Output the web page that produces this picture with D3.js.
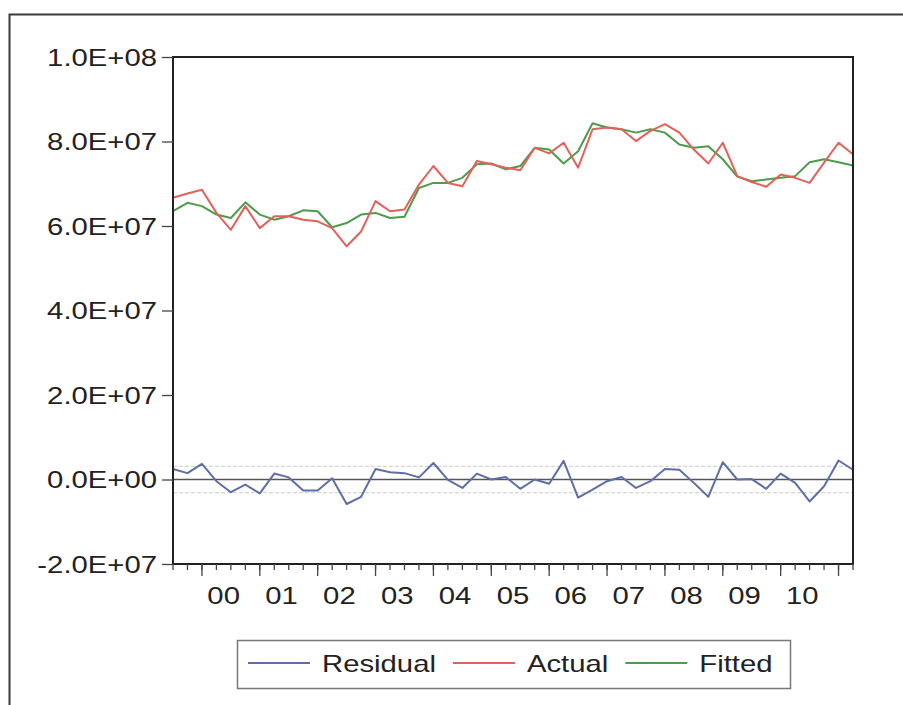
<!DOCTYPE html>
<html>
<head>
<meta charset="utf-8">
<script src="https://cdn.jsdelivr.net/npm/d3@7"></script>
<style>
  body { margin: 0; background: #fff; }
  svg { display: block; font-family: "Liberation Sans", Arial, sans-serif; }
</style>
</head>
<body>
<div id="chart"></div>
<script>
// quarterly sample 1999Q3 - 2011Q2
const startYear = 1999;
const startQuarter = 3;

const actual = [
  6.67e7, 6.77e7, 6.86e7, 6.31e7, 5.91e7, 6.47e7, 5.95e7, 6.23e7,
  6.23e7, 6.15e7, 6.11e7, 5.95e7, 5.52e7, 5.87e7, 6.59e7, 6.35e7,
  6.39e7, 6.98e7, 7.42e7, 7.02e7, 6.94e7, 7.54e7, 7.46e7, 7.38e7,
  7.32e7, 7.85e7, 7.72e7, 7.97e7, 7.38e7, 8.29e7, 8.33e7, 8.29e7,
  8.01e7, 8.25e7, 8.41e7, 8.21e7, 7.81e7, 7.48e7, 7.97e7, 7.18e7,
  7.04e7, 6.93e7, 7.22e7, 7.14e7, 7.02e7, 7.50e7, 7.97e7, 7.70e7
];

const fitted = [
  6.35e7, 6.55e7, 6.47e7, 6.27e7, 6.19e7, 6.56e7, 6.27e7, 6.15e7,
  6.23e7, 6.37e7, 6.35e7, 5.97e7, 6.07e7, 6.27e7, 6.31e7, 6.19e7,
  6.22e7, 6.90e7, 7.02e7, 7.02e7, 7.14e7, 7.46e7, 7.48e7, 7.34e7,
  7.42e7, 7.85e7, 7.81e7, 7.48e7, 7.77e7, 8.43e7, 8.33e7, 8.29e7,
  8.21e7, 8.29e7, 8.21e7, 7.93e7, 7.85e7, 7.89e7, 7.58e7, 7.17e7,
  7.06e7, 7.10e7, 7.14e7, 7.18e7, 7.51e7, 7.58e7, 7.51e7, 7.43e7
];

const residual = [
  2.5e6, 1.5e6, 3.7e6, -0.4e6, -3.0e6, -1.2e6, -3.3e6, 1.4e6,
  0.5e6, -2.6e6, -2.6e6, 0.3e6, -5.8e6, -4.1e6, 2.5e6, 1.7e6,
  1.5e6, 0.5e6, 3.9e6, -0.1e6, -2.0e6, 1.4e6, 0.0e6, 0.6e6,
  -2.2e6, 0.0e6, -1.0e6, 4.4e6, -4.3e6, -2.4e6, -0.4e6, 0.6e6,
  -2.0e6, -0.4e6, 2.5e6, 2.3e6, -0.8e6, -4.1e6, 4.1e6, 0.0e6,
  0.1e6, -2.2e6, 1.4e6, -0.8e6, -5.2e6, -1.6e6, 4.5e6, 2.3e6
];

const residualSE = 3.1e6;

const yTicks = [-2e7, 0, 2e7, 4e7, 6e7, 8e7, 1e8];
const yearLabels = ['00', '01', '02', '03', '04', '05', '06', '07', '08', '09', '10'];
const seriesNames = ['Residual', 'Actual', 'Fitted'];

const colors = { Residual: '#5f6ea6', Actual: '#e4605a', Fitted: '#4c9c4c' };

const W = 903, H = 705;
const margin = { top: 57, right: 50, bottom: 141, left: 173 };
const width = W - margin.left - margin.right;
const height = H - margin.top - margin.bottom;
const fontSize = 24;
const stretch = 1.22;   // the original type is drawn a bit wide

const svg = d3.select('#chart').append('svg')
  .attr('width', W)
  .attr('height', H);

svg.append('rect').attr('width', W).attr('height', H).attr('fill', '#fff');

// outer frame (runs off the right and bottom edges)
svg.append('rect')
  .attr('x', 9.5).attr('y', 14.5)
  .attr('width', 1000).attr('height', 1000)
  .attr('fill', 'none')
  .attr('stroke', '#3a3a3a')
  .attr('stroke-width', 2);

const g = svg.append('g')
  .attr('transform', `translate(${margin.left},${margin.top})`);

const x = d3.scaleLinear()
  .domain([0, actual.length - 1])
  .range([0, width]);

const y = d3.scaleLinear()
  .domain([-2e7, 1e8])
  .range([height, 0]);

const fmtE = v => {
  if (v === 0) return '0.0E+00';
  const e = Math.floor(Math.log10(Math.abs(v)));
  const m = v / Math.pow(10, e);
  return m.toFixed(1) + 'E' + (e < 0 ? '-' : '+') + String(Math.abs(e)).padStart(2, '0');
};

const widen = sel => sel.each(function() {
  const len = this.getComputedTextLength();
  d3.select(this)
    .attr('textLength', len * stretch)
    .attr('lengthAdjust', 'spacingAndGlyphs');
});

// +/- 1 S.E. bands around zero
[residualSE, -residualSE].forEach(v => {
  g.append('line')
    .attr('x1', 0).attr('x2', width)
    .attr('y1', y(v)).attr('y2', y(v))
    .attr('stroke', '#d6d6d0')
    .attr('stroke-width', 1.4)
    .attr('stroke-dasharray', '4,2');
});

g.append('line')
  .attr('x1', 0).attr('x2', width)
  .attr('y1', y(0)).attr('y2', y(0))
  .attr('stroke', '#555')
  .attr('stroke-width', 1.4);

const line = d3.line()
  .x((d, i) => x(i))
  .y(d => y(d));

const series = { Residual: residual, Actual: actual, Fitted: fitted };

['Residual', 'Fitted', 'Actual'].forEach(name => {
  g.append('path')
    .datum(series[name])
    .attr('fill', 'none')
    .attr('stroke', colors[name])
    .attr('stroke-width', 2)
    .attr('stroke-linejoin', 'round')
    .attr('d', line);
});

// plot box
g.append('rect')
  .attr('width', width).attr('height', height)
  .attr('fill', 'none')
  .attr('stroke', '#222')
  .attr('stroke-width', 2);

// y axis
const yAxis = g.append('g')
  .call(d3.axisLeft(y).tickValues(yTicks).tickSize(11).tickPadding(5).tickFormat(fmtE));
yAxis.select('.domain').remove();
yAxis.selectAll('.tick line').attr('stroke', '#444').attr('stroke-width', 1.3);
yAxis.selectAll('.tick text')
  .attr('fill', '#222')
  .style('font-size', fontSize + 'px')
  .attr('dy', '0.35em')
  .call(widen);

// x axis: quarterly minor ticks, yearly major ticks
const q1Index = k => (2000 + k - startYear) * 4 - (startQuarter - 1);
const majorIdx = d3.range(0, 12).map(q1Index).filter(i => i <= actual.length - 1);

const xAxis = g.append('g').attr('transform', `translate(0,${height})`);
xAxis.selectAll('.minor')
  .data(d3.range(actual.length))
  .enter().append('line')
  .attr('x1', d => x(d)).attr('x2', d => x(d))
  .attr('y1', 0).attr('y2', 6)
  .attr('stroke', '#444').attr('stroke-width', 1.3);
xAxis.selectAll('.major')
  .data(majorIdx)
  .enter().append('line')
  .attr('x1', d => x(d)).attr('x2', d => x(d))
  .attr('y1', 0).attr('y2', 12)
  .attr('stroke', '#444').attr('stroke-width', 1.3);
xAxis.selectAll('.yearlab')
  .data(yearLabels)
  .enter().append('text')
  .attr('x', (d, k) => x(q1Index(k) + 1.5))
  .attr('y', 40)
  .attr('text-anchor', 'middle')
  .attr('fill', '#222')
  .style('font-size', fontSize + 'px')
  .text(d => d)
  .call(widen);

// legend
const legend = svg.append('g');
legend.append('rect')
  .attr('x', 237.5).attr('y', 640.5)
  .attr('width', 553).attr('height', 48)
  .attr('fill', '#fff')
  .attr('stroke', '#777')
  .attr('stroke-width', 1.5);

let lx = 248;
seriesNames.forEach(name => {
  legend.append('line')
    .attr('x1', lx).attr('x2', lx + 62)
    .attr('y1', 663).attr('y2', 663)
    .attr('stroke', colors[name])
    .attr('stroke-width', 2);
  const t = legend.append('text')
    .attr('x', lx + 74).attr('y', 672)
    .attr('fill', '#222')
    .style('font-size', fontSize + 'px')
    .text(name);
  const len = t.node().getComputedTextLength() * stretch;
  t.attr('textLength', len).attr('lengthAdjust', 'spacingAndGlyphs');
  lx += 74 + len + 17;
});
</script>
</body>
</html>
